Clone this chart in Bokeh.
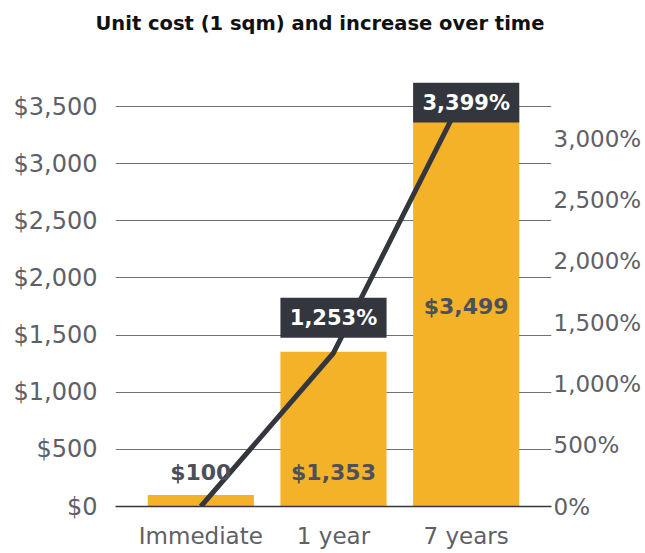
from bokeh.plotting import figure
from bokeh.models import (ColumnDataSource, FactorRange, Range1d, LinearAxis,
                          FixedTicker, NumeralTickFormatter, Title)
from bokeh.core.properties import value
from bokeh.embed import file_html
from bokeh.resources import INLINE

# ---- data ----
categories = ["Immediate", "1 year", "7 years"]
unit_cost = [100, 1353, 3499]
increase_pct = [0, 1253, 3399]
cost_labels = ["$100", "$1,353", "$3,499"]
pct_labels = ["", "1,253%", "3,399%"]
cost_ticks = [0, 500, 1000, 1500, 2000, 2500, 3000, 3500]
pct_ticks = [0, 500, 1000, 1500, 2000, 2500, 3000]
pct_tick_labels = ["0%", "500%", "1,000%", "1,500%", "2,000%", "2,500%", "3,000%"]
title_text = "Unit cost (1 sqm) and increase over time"

# ---- styling / layout ----
W, H = 644, 552
FRAME_H = 424
Y_END = 3710
PCT_END = 3461
ppd = FRAME_H / Y_END  # px per dollar

BAR = "#F3B228"
DARK = "#33363D"
TICK = "#5E6067"
VAL = "#4D5058"
FONT = "DejaVu Sans"

p = figure(width=W, height=H, x_range=FactorRange(*categories, range_padding=0.0953),
           y_range=Range1d(0, Y_END), output_backend="svg", toolbar_location=None,
           min_border_left=115, min_border_right=92, min_border_top=82, min_border_bottom=46)
p.outline_line_color = None
p.background_fill_color = "white"
p.border_fill_color = "white"

# spacer (closest to frame) then the real title above it
p.add_layout(Title(text=" ", text_font_size="2px", standoff=43), "above")
p.add_layout(Title(text=title_text, align="left", offset=-20, vertical_align="middle",
                   standoff=0, text_font=FONT, text_font_size="19.5px",
                   text_font_style="bold", text_color="#111111"), "above")

p.extra_y_ranges = {"pct": Range1d(0, PCT_END)}

# left axis
ya = p.yaxis[0]
ya.ticker = FixedTicker(ticks=cost_ticks)
ya.formatter = NumeralTickFormatter(format="$0,0")
ya.axis_line_color = None
ya.major_tick_line_color = None
ya.major_tick_out = 0
ya.minor_tick_line_color = None
ya.major_label_standoff = 18
ya.major_label_text_font = FONT
ya.major_label_text_font_size = "24px"
ya.major_label_text_color = TICK

# right axis
ra = LinearAxis(y_range_name="pct", ticker=FixedTicker(ticks=pct_ticks),
                major_label_overrides=dict(zip(pct_ticks, pct_tick_labels)))
ra.axis_line_color = None
ra.major_tick_line_color = None
ra.major_tick_out = 0
ra.minor_tick_line_color = None
ra.major_label_standoff = 2
ra.major_label_text_font = FONT
ra.major_label_text_font_size = "23px"
ra.major_label_text_color = TICK
p.add_layout(ra, "right")

# bottom axis
xa = p.xaxis[0]
xa.axis_line_color = DARK
xa.axis_line_width = 1.5
xa.major_tick_line_color = None
xa.major_tick_out = 0
xa.minor_tick_line_color = None
xa.major_label_standoff = 16
xa.major_label_text_font = FONT
xa.major_label_text_font_size = "23px"
xa.major_label_text_color = TICK

p.xgrid.grid_line_color = None
p.ygrid.ticker = FixedTicker(ticks=cost_ticks)
p.ygrid.grid_line_color = "#6F7176"
p.ygrid.grid_line_width = 1

# bars
src = ColumnDataSource(dict(cat=categories, cost=unit_cost, pct=increase_pct))
p.vbar(x="cat", top="cost", width=0.8, source=src, color=BAR, line_color=None)

# percentage line
p.line(x="cat", y="pct", source=src, y_range_name="pct", line_color=DARK,
       line_width=5, line_join="round")

# cost labels
lab_y = [0 if v < 2000 else v / 2 for v in unit_cost]
lab_off = [-34 if v < 2000 else 0 for v in unit_cost]
lsrc = ColumnDataSource(dict(cat=categories, y=lab_y, off=lab_off, txt=cost_labels))
p.text(x="cat", y="y", y_offset="off", text="txt", source=lsrc, text_align="center",
       text_baseline="middle", text_font=value(FONT), text_font_style="bold",
       text_font_size="22px", text_color=VAL)

# percentage boxes
box_cats, box_y, box_txt = [], [], []
for c, v, t in zip(categories, unit_cost, pct_labels):
    if t:
        box_cats.append(c)
        box_y.append(min(v + 34 / ppd, Y_END - 20 / ppd))
        box_txt.append(t)
bsrc = ColumnDataSource(dict(cat=box_cats, y=box_y, txt=box_txt))
p.rect(x="cat", y="y", width=0.8, height=40, height_units="screen", source=bsrc,
       fill_color=DARK, line_color=None)
p.text(x="cat", y="y", text="txt", source=bsrc, text_align="center",
       text_baseline="middle", text_font=value(FONT), text_font_style="bold",
       text_font_size="21px", text_color="white")

open("out.html", "w").write(file_html(p, INLINE))
